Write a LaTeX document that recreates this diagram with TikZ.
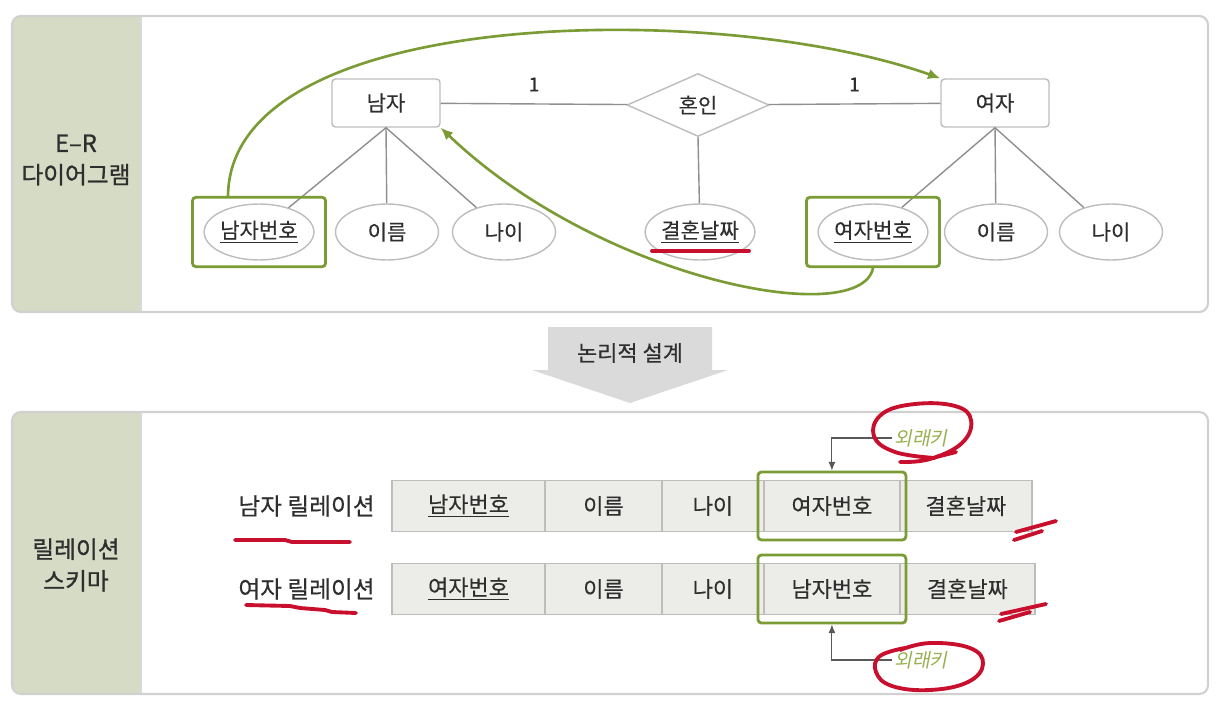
\documentclass[tikz,border=0pt]{standalone}
\usepackage{fontspec}
\setmainfont[FakeBold=0.3]{Noto Sans CJK KR}
\newfontfamily\bandfont[FakeBold=1]{Noto Sans CJK KR}
\newfontfamily\fkfont[FakeSlant=0.2]{Noto Sans CJK KR}
\usepackage{tikz}
\usetikzlibrary{positioning, shapes.geometric, fit, arrows.meta}

\definecolor{bandgreen}{HTML}{D5DBC4}
\definecolor{keygreen}{HTML}{7B9B35}
\definecolor{fkgreen}{HTML}{98B050}
\definecolor{linegray}{HTML}{8F8F8F}
\definecolor{boxgray}{HTML}{BDBDBD}
\definecolor{cellfill}{HTML}{ECECE8}
\definecolor{arrowgray}{HTML}{DADADA}
\definecolor{pen}{HTML}{C8102E}
\definecolor{txt}{HTML}{2E2E2E}

\tikzset{
  entity/.style={draw=boxgray, fill=white, rounded corners=2pt, line width=0.8pt,
    minimum width=2.16cm, minimum height=0.96cm, text=txt, font=\fontsize{12}{14}\selectfont},
  attr/.style={ellipse, draw=boxgray, fill=white, line width=0.8pt, inner sep=0pt,
    minimum width=2.06cm, minimum height=1.12cm, text=txt, font=\fontsize{12}{14}\selectfont},
  relation/.style={diamond, draw=boxgray, fill=white, line width=0.8pt, inner sep=0pt,
    minimum width=2.84cm, minimum height=1.26cm, text=txt, font=\fontsize{12}{14}\selectfont},
  cell/.style={draw=boxgray, fill=cellfill, line width=0.8pt, inner sep=0pt, outer sep=0pt,
    minimum height=1.02cm, text=txt, font=\fontsize{12.5}{14}\selectfont},
  rowlabel/.style={text=txt, inner sep=0pt, font=\fontsize{13.5}{15}\selectfont},
  bandlabel/.style={text=txt, align=center, font=\bandfont\fontsize{13.5}{18}\selectfont},
  keybox/.style={draw=keygreen, line width=1.6pt, rounded corners=2pt},
  keyarrow/.style={draw=keygreen, line width=1.5pt, -{Latex[length=7pt,width=6pt]}},
  erline/.style={draw=linegray, line width=0.8pt},
  fklabel/.style={text=fkgreen, inner sep=1pt, font=\fkfont\fontsize{11}{12}\selectfont},
  fkline/.style={draw=black!65, line width=0.6pt, -{Latex[length=5pt,width=4pt]}},
  panel/.style={draw=black!18, line width=1.2pt, rounded corners=5pt},
  redpen/.style={draw=pen, line width=2.2pt, line cap=round, line join=round},
}

\begin{document}
\begin{tikzpicture}[x=0.02cm, y=-0.02cm]
\fill[white] (0,0) rectangle (1222,706);
\useasboundingbox (0,0) rectangle (1222,706);

% E-R panel
\fill[bandgreen, rounded corners=5pt] (12,16) rectangle (141,312);
\fill[bandgreen] (120,16) rectangle (141,312);
\draw[black!15, line width=1pt] (141,16) -- (141,312);
\draw[panel] (12,16) rectangle (1208,312);
\node[bandlabel] (erlabel) at (76,160) {E–R\\다이어그램};

\node[entity] (man) at (386,103) {남자};
\node[relation] (marry) at (698,105) {혼인};
\node[entity] (woman) at (995,103) {여자};

\node[attr] (mno) at (259,232) {\underline{남자번호}};
\node[attr] (mname) at (387,232) {이름};
\node[attr] (mage) at (504,232) {나이};
\node[attr] (date) at (700,232) {\underline{결혼날짜}};
\node[attr] (wno) at (873,232) {\underline{여자번호}};
\node[attr] (wname) at (996,232) {이름};
\node[attr] (wage) at (1111,232) {나이};

\draw[erline] (man) -- node[midway, above=0.12cm, text=txt, font=\fontsize{11}{12}\selectfont] {1} (marry);
\draw[erline] (marry) -- node[midway, above=0.12cm, text=txt, font=\fontsize{11}{12}\selectfont] {1} (woman);
\draw[erline] (man.south) -- (mno);
\draw[erline] (man.south) -- (mname);
\draw[erline] (man.south) -- (mage);
\draw[erline] (marry.south) -- (date);
\draw[erline] (woman.south) -- (wno);
\draw[erline] (woman.south) -- (wname);
\draw[erline] (woman.south) -- (wage);

\node[keybox, fit=(mno), inner xsep=0.22cm, inner ysep=0.12cm] (mnokey) {};
\node[keybox, fit=(wno), inner xsep=0.22cm, inner ysep=0.12cm] (wnokey) {};

\draw[keyarrow] ([xshift=-0.62cm]mnokey.north) .. controls (230,5) and (720,0) .. (woman.north west);
\draw[keyarrow] (wnokey.south) .. controls (860,330) and (600,280) .. (man.south east);

\draw[redpen] (652,251) -- (749,251);

% logical design arrow
\fill[arrowgray] (548,327) -- (712,327) -- (712,370) -- (728,370) -- (630,403)
  -- (532,370) -- (548,370) -- cycle;
\node[text=txt, font=\fontsize{12.5}{14}\selectfont] (design) at (630,353) {논리적 설계};

% relation schema panel
\fill[bandgreen, rounded corners=5pt] (12,412) rectangle (141,694);
\fill[bandgreen] (120,412) rectangle (141,694);
\draw[black!15, line width=1pt] (141,412) -- (141,694);
\draw[panel] (12,412) rectangle (1208,694);
\node[bandlabel] (rslabel) at (76,565) {릴레이션\\스키마};

\node[rowlabel, anchor=east] (mrel) at (375,506) {남자 릴레이션};
\node[cell, minimum width=3.06cm, anchor=west] (m1) at (392,506) {\underline{남자번호}};
\node[cell, minimum width=2.34cm, right=0pt of m1] (m2) {이름};
\node[cell, minimum width=2.04cm, right=0pt of m2] (m3) {나이};
\node[cell, minimum width=2.72cm, right=0pt of m3] (m4) {여자번호};
\node[cell, minimum width=2.64cm, right=0pt of m4] (m5) {결혼날짜};

\node[rowlabel, anchor=east] (wrel) at (375,589) {여자 릴레이션};
\node[cell, minimum width=3.06cm, anchor=west] (w1) at (392,589) {\underline{여자번호}};
\node[cell, minimum width=2.34cm, right=0pt of w1] (w2) {이름};
\node[cell, minimum width=2.04cm, right=0pt of w2] (w3) {나이};
\node[cell, minimum width=2.72cm, right=0pt of w3] (w4) {남자번호};
\node[cell, minimum width=2.70cm, right=0pt of w4] (w5) {결혼날짜};

\node[keybox, fit=(m4), inner xsep=0.12cm, inner ysep=0.17cm] (m4key) {};
\node[keybox, fit=(w4), inner xsep=0.12cm, inner ysep=0.17cm] (w4key) {};

\node[fklabel] (fk1) at (921,438) {외래키};
\node[fklabel] (fk2) at (921,660) {외래키};
\draw[fkline] (fk1.west) -| (m4key.north);
\draw[fkline] (fk2.west) -| (w4key.south);

% red pen marks
\draw[redpen] (235,540) -- (285,540) -- (292,542) -- (350,542);
\draw[redpen] (246,605) -- (290,606) -- (300,608) -- (325,610) -- (332,612) -- (356,613);
\draw[redpen] plot[smooth, tension=0.7] coordinates {(935,458) (895,452) (874,436) (882,414)
  (915,404) (955,406) (971,420) (962,443) (930,459) (900,462)};
\draw[redpen] (936,457) -- (956,452);
\draw[redpen] plot[smooth, tension=0.7] coordinates {(900,650) (930,643) (970,648) (983,664)
  (968,682) (930,690) (892,686) (876,672) (880,656) (905,648)};
\draw[redpen] (1016,532) -- (1056,521);
\draw[redpen] (1014,540) -- (1042,531);
\draw[redpen] (1001,614) -- (1046,604);
\draw[redpen] (999,621) -- (1030,612);
\end{tikzpicture}
\end{document}
